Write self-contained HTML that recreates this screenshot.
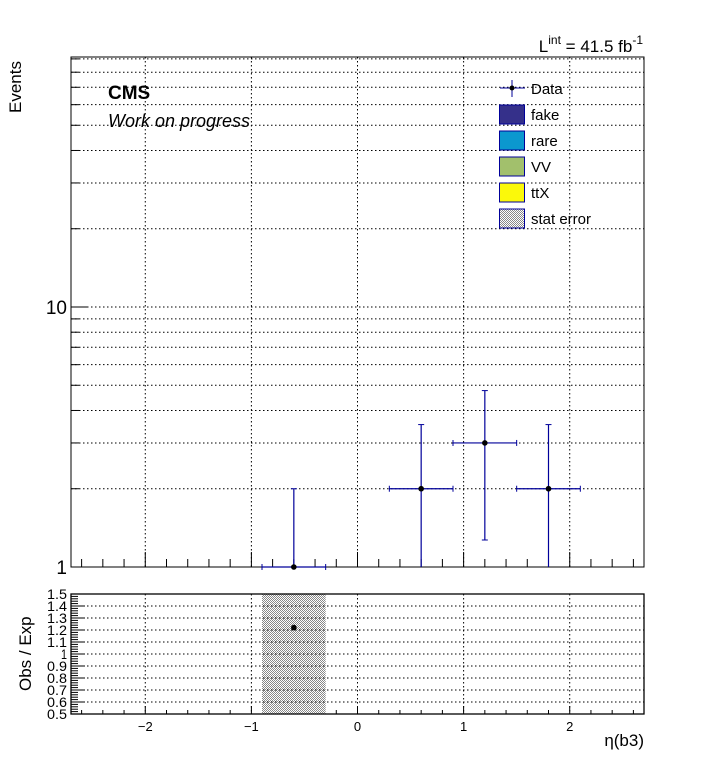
<!DOCTYPE html>
<html><head><meta charset="utf-8"><style>
html,body{margin:0;padding:0;background:#fff;}
svg{display:block;font-family:"Liberation Sans",sans-serif;}
</style></head><body>
<svg id="c" width="716" height="772" viewBox="0 0 716 772">
<defs>
<pattern id="hatch" width="2" height="2" patternUnits="userSpaceOnUse">
<rect width="2" height="2" fill="#fff"/><rect width="1" height="1" fill="#888"/><rect x="1" y="1" width="1" height="1" fill="#888"/>
</pattern>
</defs>
</svg>
<script>
const binCenters=[-0.6,0.6,1.2,1.8];
const binHalfWidth=[0.3,0.3,0.3,0.3];
const dataValues=[1,2,3,2];
const errUp=[1.0,1.53,1.77,1.53];
const errDown=[0,2,1.73,2];
const ratioCenters=[-0.6];
const ratioValues=[1.22];
const bandLow=[-0.9];
const bandHigh=[-0.3];
const xTicks=[-2,-1,0,1,2];
const ratioTicks=[0.5,0.6,0.7,0.8,0.9,1,1.1,1.2,1.3,1.4,1.5];

const NS="http://www.w3.org/2000/svg";
const svg=document.getElementById('c');
function mk(t,a,p){const e=document.createElementNS(NS,t);for(const k in a)e.setAttribute(k,a[k]);(p||svg).appendChild(e);return e;}
const X0=71,X1=644,XMIN=-2.7,XMAX=2.7;
const x=v=>X0+(v-XMIN)/(XMAX-XMIN)*(X1-X0);
const YB=567,YT=57,DEC=260;
const y=v=>YB-Math.log10(v)*DEC;
const RT=594,RB=714;
const ry=v=>RB-(v-0.5)/(1.0)*(RB-RT);

const grid=mk('g',{});


xTicks.forEach(t=>{mk('line',{x1:x(t),x2:x(t),y1:YT,y2:YB,stroke:'#000','stroke-dasharray':'1.5,2.5'},grid);});
for(let d=1;d<=10;d*=10)for(let m=1;m<10;m++){const v=d*m;if(y(v)<YT)break;if(v===1)continue;
 mk('line',{x1:X0,x2:X1,y1:y(v),y2:y(v),stroke:'#000','stroke-dasharray':'1.5,2.5'},grid);
 mk('line',{x1:X0,x2:X0+(m===1?16:8),y1:y(v),y2:y(v),stroke:'#000'},grid);}
for(let v=-2.6;v<=2.61;v+=0.2){const major=Math.abs(v-Math.round(v))<1e-6;const h=major?15:8;
 mk('line',{x1:x(v),x2:x(v),y1:YB,y2:YB-h,stroke:'#000'},grid);
 mk('line',{x1:x(v),x2:x(v),y1:RB,y2:RB-(major?8:4),stroke:'#000'},grid);}
const frame=mk('rect',{x:X0,y:YT,width:X1-X0,height:YB-YT,fill:'none',stroke:'#000'});

[[1,'1'],[10,'10']].forEach(([v,s])=>{const t=mk('text',{x:X0-4,y:y(v)+7,'text-anchor':'end','font-size':19});t.textContent=s;
 });
binCenters.forEach((c,i)=>{const g=mk('g',{});
 
 const v=dataValues[i],yc=y(v);
 const lo=v-errDown[i]>0?y(v-errDown[i]):YB;
 mk('line',{x1:x(c-binHalfWidth[i]),x2:x(c+binHalfWidth[i]),y1:yc,y2:yc,stroke:'#00009a','stroke-width':1.2},g);
 mk('line',{x1:x(c),x2:x(c),y1:y(v+errUp[i]),y2:lo,stroke:'#00009a','stroke-width':1.2},g);
 [x(c-binHalfWidth[i]),x(c+binHalfWidth[i])].forEach(px=>mk('line',{x1:px,x2:px,y1:yc-3,y2:yc+3,stroke:'#00009a'},g));
 mk('line',{x1:x(c)-3,x2:x(c)+3,y1:y(v+errUp[i]),y2:y(v+errUp[i]),stroke:'#00009a'},g);
 if(v-errDown[i]>0)mk('line',{x1:x(c)-3,x2:x(c)+3,y1:lo,y2:lo,stroke:'#00009a'},g);
 mk('circle',{cx:x(c),cy:yc,r:2.8,fill:'#000'},g);});
function txt(s,a,name){const t=mk('text',a);t.textContent=s;return t;}
txt('CMS',{x:108,y:99,'font-size':19,'font-weight':'bold'},'cms-label');
txt('Work on progress',{x:108,y:127,'font-size':18,'font-style':'italic'},'subtitle');
const lum=mk('text',{x:643,y:52,'text-anchor':'end','font-size':17});

lum.innerHTML='L<tspan font-size="12" dy="-8">int</tspan><tspan dy="8"> = 41.5 fb</tspan><tspan font-size="12" dy="-8">-1</tspan>';
txt('Events',{x:0,y:0,'font-size':17,transform:'translate(21,113) rotate(-90)'},'y-axis-title');
const leg=mk('g',{});
mk('line',{x1:500,x2:525,y1:88,y2:88,stroke:'#00009a'},leg);mk('line',{x1:512,x2:512,y1:80,y2:97,stroke:'#00009a'},leg);
mk('circle',{cx:512,cy:88,r:2.5,fill:'#000'},leg);
let t=mk('text',{x:531,y:94,'font-size':15},leg);t.textContent='Data';
[['fake','#35308a'],['rare','#0b98cf'],['VV','#a2c06c'],['ttX','#fbf90a'],['stat error','url(#hatch)']].forEach(([n,c],i)=>{
 const yy=105+i*26;
 mk('rect',{x:499.5,y:yy,width:25,height:19,fill:c,stroke:'#00009a'},leg);
 const tt=mk('text',{x:531,y:yy+15,'font-size':15},leg);tt.textContent=n;
 });
const rg=mk('g',{});
bandLow.forEach((b,i)=>{const r=mk('rect',{x:x(b),y:RT,width:x(bandHigh[i])-x(b),height:RB-RT,fill:'url(#hatch)'},rg);
 });
xTicks.forEach(tk=>mk('line',{x1:x(tk),x2:x(tk),y1:RT,y2:RB,stroke:'#000','stroke-dasharray':'1.5,2.5'},rg));
ratioTicks.forEach(v=>{if(v>0.5&&v<1.5)mk('line',{x1:X0,x2:X1,y1:ry(v),y2:ry(v),stroke:'#000','stroke-dasharray':'1.5,2.5'},rg);
 const l=mk('text',{x:67,y:ry(v)+5,'text-anchor':'end','font-size':14,textLength:String(v).length>1?20:6,lengthAdjust:'spacingAndGlyphs'},rg);l.textContent=String(v);
 });
for(let v=0.5;v<=1.501;v+=0.02)mk('line',{x1:X0,x2:X0+(Math.abs(v*10-Math.round(v*10))<1e-6?14:7),y1:ry(v),y2:ry(v),stroke:'#000'},rg);
ratioCenters.forEach((c,i)=>{const p=mk('circle',{cx:x(c),cy:ry(ratioValues[i]),r:2.8,fill:'#000'},rg);
 });
mk('rect',{x:X0,y:RT,width:X1-X0,height:RB-RT,fill:'none',stroke:'#000','stroke-width':1.3},rg);
xTicks.forEach(tk=>{const l=mk('text',{x:x(tk),y:731,'text-anchor':'middle','font-size':13},rg);l.textContent=(tk<0?'\u2212':'')+Math.abs(tk);
 });
txt('Obs / Exp',{x:0,y:0,'font-size':17,transform:'translate(31,691) rotate(-90)'},'ratio-axis-title');
txt('\u03b7(b3)',{x:644,y:746,'text-anchor':'end','font-size':17},'x-axis-title');
</script>
</body></html>
